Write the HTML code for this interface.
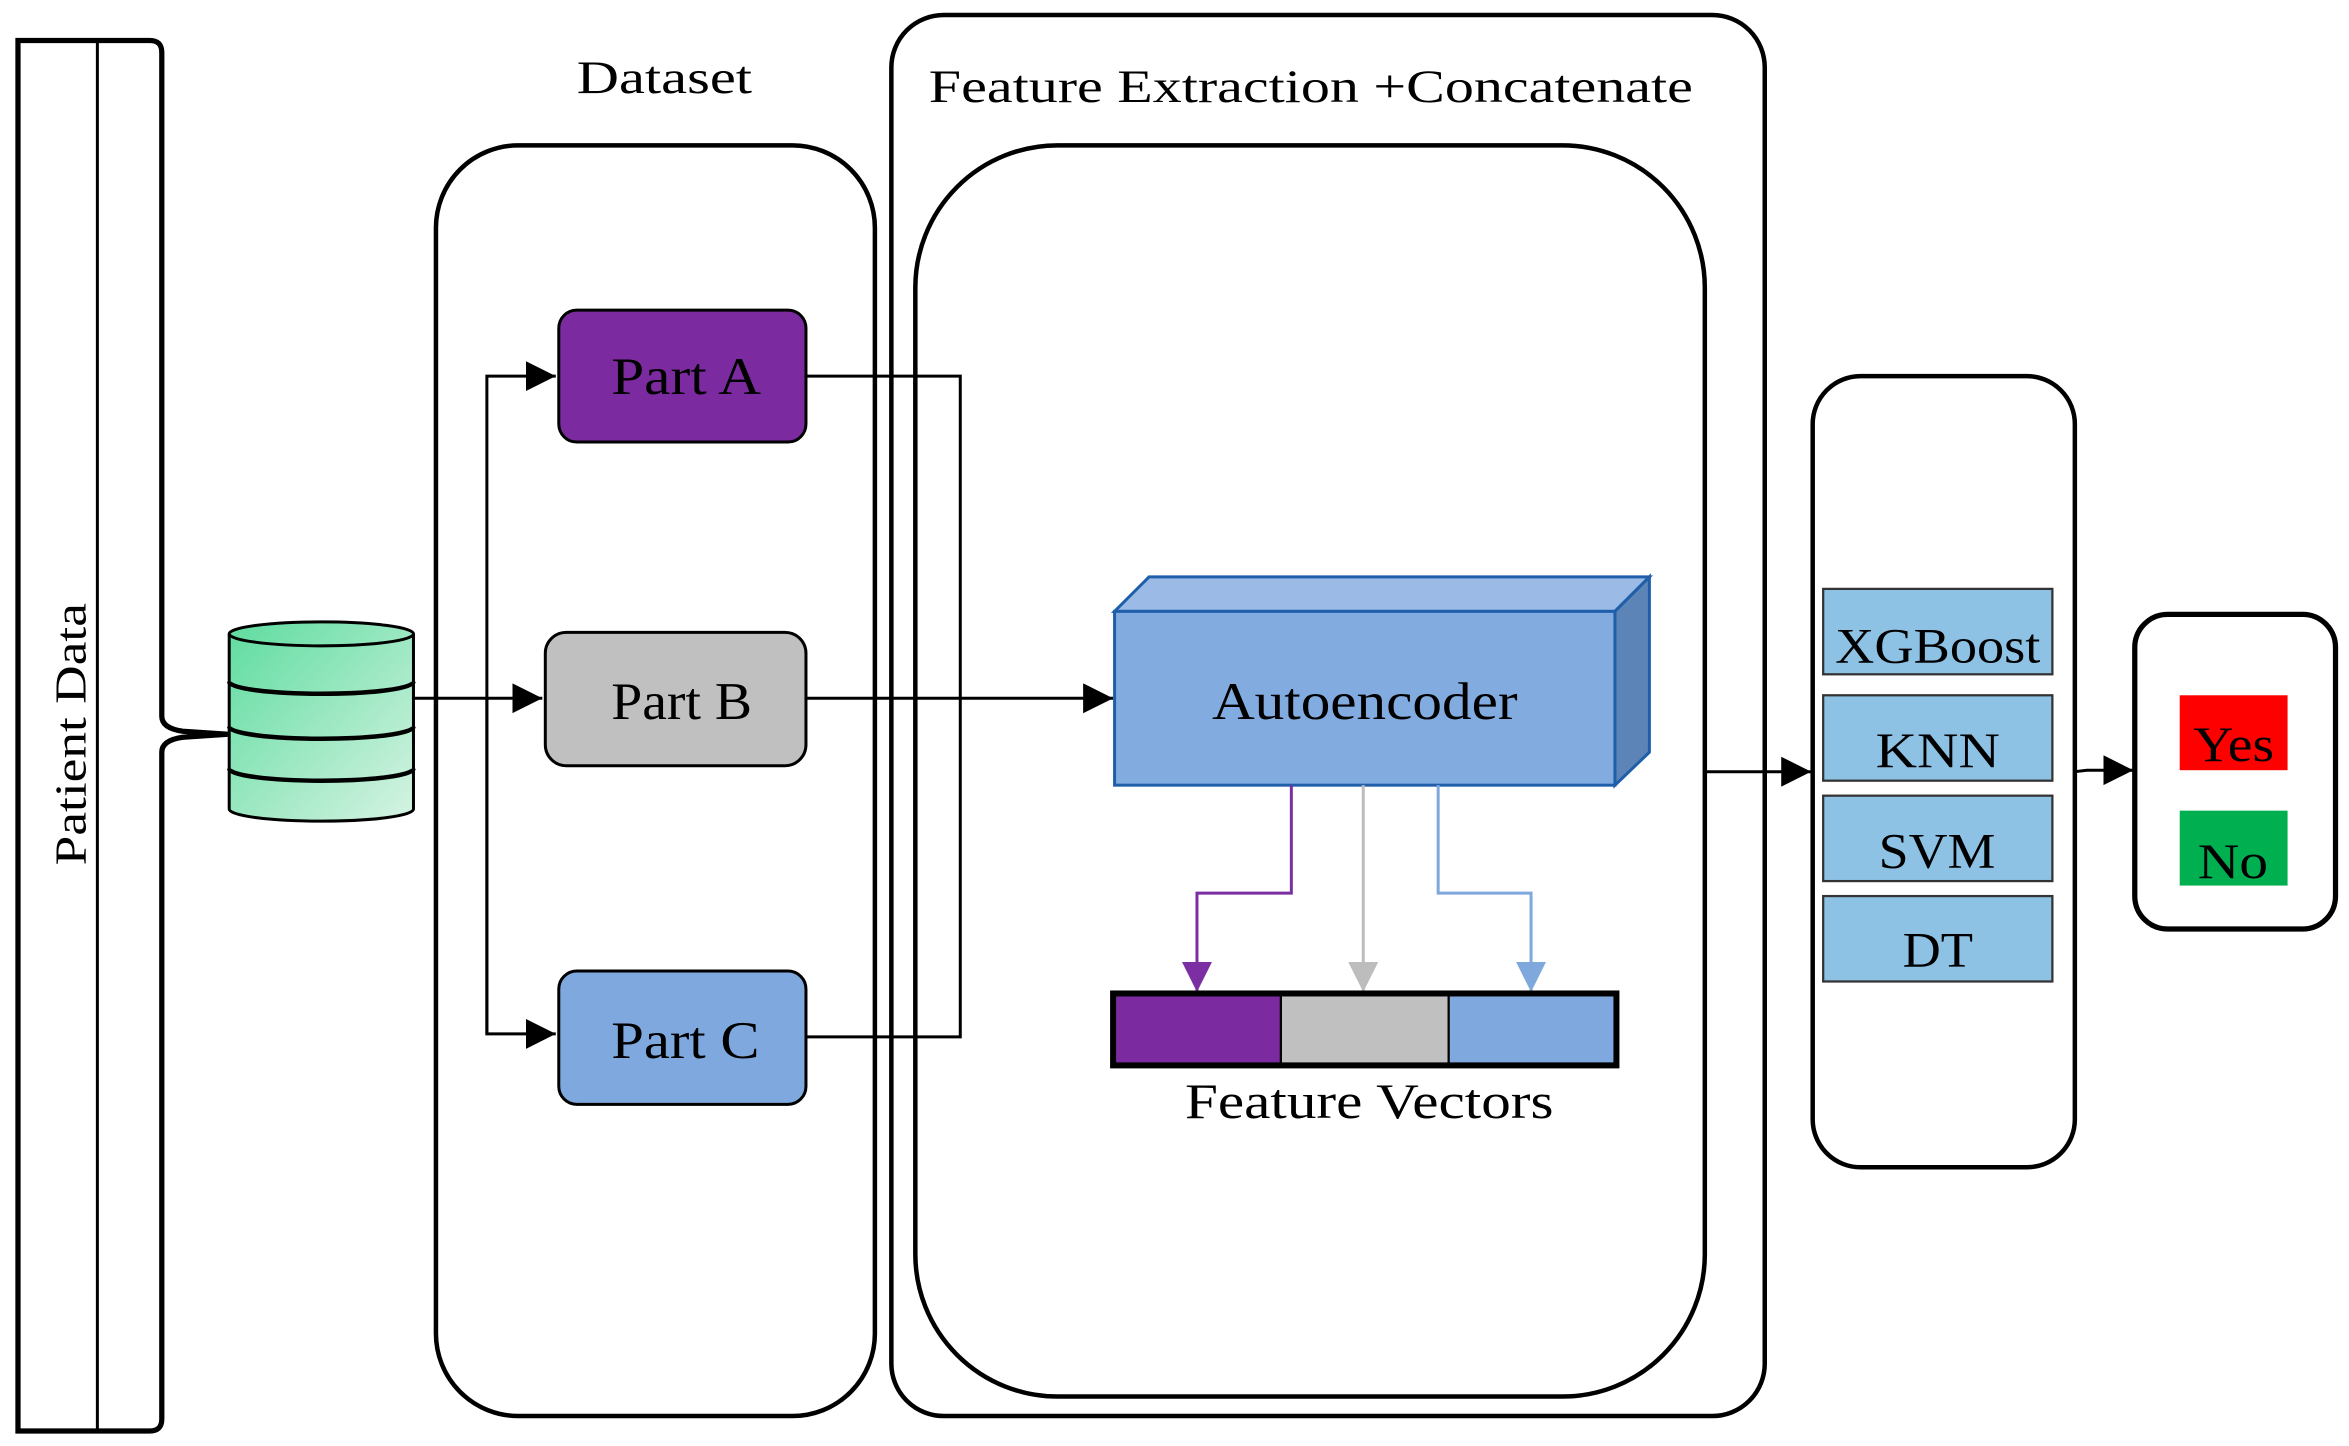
<!DOCTYPE html>
<html><head><meta charset="utf-8"><style>html,body{margin:0;padding:0;background:#fff}svg{display:block}</style></head><body>
<svg width="2349" height="1446" viewBox="0 0 1568 965" preserveAspectRatio="none" xmlns="http://www.w3.org/2000/svg" font-family="'Liberation Serif', serif">
<defs>
<linearGradient id="g" x1="0" y1="0" x2="1" y2="1"><stop offset="0" stop-color="#5edc9f"/><stop offset="1" stop-color="#d6f3e3"/></linearGradient>
<marker id="ab" viewBox="0 0 20 20" markerWidth="20" markerHeight="20" refX="20" refY="10" orient="auto" markerUnits="userSpaceOnUse"><path d="M0,0L20,10L0,20z" fill="#000"/></marker>
<marker id="mp" viewBox="0 0 20 20" markerWidth="20" markerHeight="20" refX="20" refY="10" orient="auto" markerUnits="userSpaceOnUse"><path d="M0,0L20,10L0,20z" fill="#7b2fa3"/></marker>
<marker id="mg" viewBox="0 0 20 20" markerWidth="20" markerHeight="20" refX="20" refY="10" orient="auto" markerUnits="userSpaceOnUse"><path d="M0,0L20,10L0,20z" fill="#bdbdbd"/></marker>
<marker id="mb" viewBox="0 0 20 20" markerWidth="20" markerHeight="20" refX="20" refY="10" orient="auto" markerUnits="userSpaceOnUse"><path d="M0,0L20,10L0,20z" fill="#7fa8dd"/></marker>
</defs>
<path d="M12,27 L100,27 Q108,27 108,35 L108,478 Q108,486 122,488 L152,490 L122,492 Q108,494 108,502 L108,947 Q108,955 100,955 L12,955 Z" fill="#fff" stroke="#000" stroke-width="3.5"/>
<line x1="65" y1="27" x2="65" y2="955" stroke="#000" stroke-width="2"/>
<text transform="translate(57,490) rotate(-90)" text-anchor="middle" font-size="30" textLength="175" lengthAdjust="spacingAndGlyphs">Patient Data</text>
<g stroke="#000" stroke-width="2">
<path d="M153,423 L153,540 A61.5,8 0 0 0 276,540 L276,423 A61.5,8 0 0 0 153,423 Z" fill="url(#g)"/>
<path d="M153,423 A61.5,8 0 0 0 276,423" fill="none"/>
<path d="M153,455 A61.5,8 0 0 0 276,455" fill="none" stroke-width="3"/>
<path d="M153,485 A61.5,8 0 0 0 276,485" fill="none" stroke-width="3"/>
<path d="M153,513 A61.5,8 0 0 0 276,513" fill="none" stroke-width="3"/>
</g>
<text x="385" y="62" font-size="31" textLength="117" lengthAdjust="spacingAndGlyphs">Dataset</text>
<rect x="291" y="97" width="293" height="848" rx="55" fill="none" stroke="#000" stroke-width="3"/>
<rect x="595" y="10" width="583" height="935" rx="35" fill="none" stroke="#000" stroke-width="3"/>
<text x="620" y="68" font-size="31" textLength="510" lengthAdjust="spacingAndGlyphs">Feature Extraction +Concatenate</text>
<rect x="611" y="97" width="527" height="835" rx="95" fill="none" stroke="#000" stroke-width="3"/>
<g stroke="#000" stroke-width="2" fill="none">
<line x1="276" y1="466" x2="362" y2="466" marker-end="url(#ab)"/>
<polyline points="325,690 325,251 371,251" marker-end="url(#ab)"/>
<polyline points="325,466 325,690 371,690" marker-end="url(#ab)"/>
<polyline points="538,251 641,251 641,692 538,692"/>
<line x1="538" y1="466" x2="743" y2="466" marker-end="url(#ab)"/>
<line x1="1138" y1="515" x2="1209" y2="515" marker-end="url(#ab)"/>
<polyline points="1385,515 1393,514 1424,514" marker-end="url(#ab)"/>
</g>
<rect x="373" y="207" width="165" height="88" rx="12" fill="#7b2aa0" stroke="#000" stroke-width="2"/>
<text x="408" y="263" font-size="35" textLength="100" lengthAdjust="spacingAndGlyphs">Part A</text>
<rect x="364" y="422" width="174" height="89" rx="14" fill="#c0c0c0" stroke="#000" stroke-width="2"/>
<text x="408" y="480" font-size="35" textLength="94" lengthAdjust="spacingAndGlyphs">Part B</text>
<rect x="373" y="648" width="165" height="89" rx="12" fill="#7fa9de" stroke="#000" stroke-width="2"/>
<text x="408" y="706" font-size="35" textLength="99" lengthAdjust="spacingAndGlyphs">Part C</text>
<polygon points="744,408 767,385 1101,385 1078,408" fill="#9bbbe6" stroke="#1f5faa" stroke-width="2"/>
<polygon points="1078,408 1101,385 1101,502 1078,524" fill="#5c84b7" stroke="#1f5faa" stroke-width="2"/>
<rect x="744" y="408" width="334" height="116" fill="#82abe0" stroke="#1f5faa" stroke-width="2"/>
<text x="809" y="480" font-size="35" textLength="204" lengthAdjust="spacingAndGlyphs">Autoencoder</text>
<polyline points="862,524 862,596 799,596 799,662" fill="none" stroke="#7b2fa3" stroke-width="2" marker-end="url(#mp)"/>
<line x1="910" y1="524" x2="910" y2="662" stroke="#bdbdbd" stroke-width="2" marker-end="url(#mg)"/>
<polyline points="960,524 960,596 1022,596 1022,662" fill="none" stroke="#7fa8dd" stroke-width="2" marker-end="url(#mb)"/>
<rect x="743" y="663" width="112" height="48" fill="#7b2aa0"/>
<rect x="855" y="663" width="112" height="48" fill="#c0c0c0"/>
<rect x="967" y="663" width="112" height="48" fill="#7fa9de"/>
<rect x="743" y="663" width="336" height="48" fill="none" stroke="#000" stroke-width="4"/>
<line x1="855" y1="663" x2="855" y2="711" stroke="#000" stroke-width="1.5"/>
<line x1="967" y1="663" x2="967" y2="711" stroke="#000" stroke-width="1.5"/>
<text x="791" y="746" font-size="33" textLength="246" lengthAdjust="spacingAndGlyphs">Feature Vectors</text>
<rect x="1210" y="251" width="175" height="528" rx="32" fill="none" stroke="#000" stroke-width="3"/>
<g fill="#8dc2e5" stroke="#333" stroke-width="1.5">
<rect x="1217" y="393" width="153" height="57"/>
<rect x="1217" y="464" width="153" height="57"/>
<rect x="1217" y="531" width="153" height="57"/>
<rect x="1217" y="598" width="153" height="57"/>
</g>
<g font-size="33" lengthAdjust="spacingAndGlyphs">
<text x="1225" y="442" textLength="137" lengthAdjust="spacingAndGlyphs">XGBoost</text>
<text x="1252" y="512" textLength="83" lengthAdjust="spacingAndGlyphs">KNN</text>
<text x="1254" y="579" textLength="78" lengthAdjust="spacingAndGlyphs">SVM</text>
<text x="1270" y="645" textLength="47" lengthAdjust="spacingAndGlyphs">DT</text>
</g>
<rect x="1425" y="410" width="134" height="210" rx="22" fill="none" stroke="#000" stroke-width="3.5"/>
<rect x="1455" y="464" width="72" height="50" fill="#ff0000"/>
<text x="1464" y="508" font-size="33" textLength="54" lengthAdjust="spacingAndGlyphs">Yes</text>
<rect x="1455" y="541" width="72" height="50" fill="#00b050"/>
<text x="1467" y="586" font-size="33" textLength="47" lengthAdjust="spacingAndGlyphs">No</text>
</svg>
</body></html>
